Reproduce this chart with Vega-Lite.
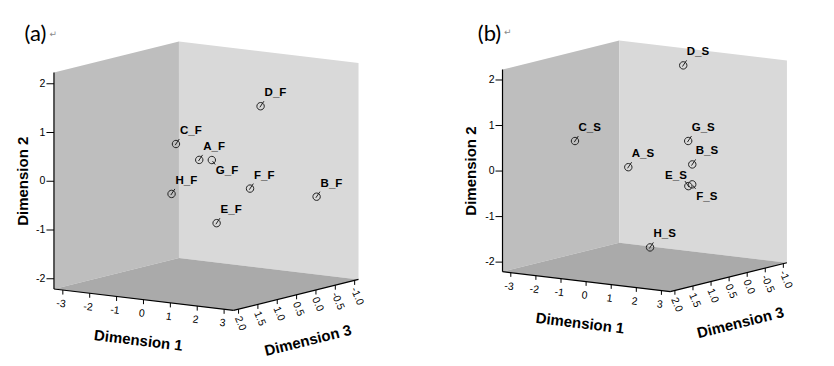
{
  "$schema": "https://vega.github.io/schema/vega-lite/v6.json",
  "padding": 0,
  "spacing": 0,
  "bounds": "flush",
  "config": {"view": {"stroke": null}, "font": "Liberation Sans"},
  "datasets": {
    "walls": [
      {"w": "left", "k": 1, "d1": -3.33, "d2": -2.21, "d3": 2.13},
      {"w": "left", "k": 2, "d1": -3.33, "d2": -2.21, "d3": -1.1},
      {"w": "left", "k": 3, "d1": -3.33, "d2": 2.23, "d3": -1.1},
      {"w": "left", "k": 4, "d1": -3.33, "d2": 2.23, "d3": 2.13},
      {"w": "back", "k": 1, "d1": -3.33, "d2": -2.21, "d3": -1.1},
      {"w": "back", "k": 2, "d1": 3.35, "d2": -2.21, "d3": -1.1},
      {"w": "back", "k": 3, "d1": 3.35, "d2": 2.23, "d3": -1.1},
      {"w": "back", "k": 4, "d1": -3.33, "d2": 2.23, "d3": -1.1},
      {"w": "floor", "k": 1, "d1": -3.33, "d2": -2.21, "d3": 2.13},
      {"w": "floor", "k": 2, "d1": 3.35, "d2": -2.21, "d3": 2.13},
      {"w": "floor", "k": 3, "d1": 3.35, "d2": -2.21, "d3": -1.1},
      {"w": "floor", "k": 4, "d1": -3.33, "d2": -2.21, "d3": -1.1}
    ],
    "edges": [
      {"e": "d2", "k": 1, "d1": -3.33, "d2": -2.21, "d3": 2.13},
      {"e": "d2", "k": 2, "d1": -3.33, "d2": 2.23, "d3": 2.13},
      {"e": "d1", "k": 1, "d1": -3.33, "d2": -2.21, "d3": 2.13},
      {"e": "d1", "k": 2, "d1": 3.35, "d2": -2.21, "d3": 2.13},
      {"e": "d3", "k": 1, "d1": 3.35, "d2": -2.21, "d3": 2.13},
      {"e": "d3", "k": 2, "d1": 3.35, "d2": -2.21, "d3": -1.1}
    ],
    "ticks": [
      {"axis": "d1", "v": -3, "label": "-3"},
      {"axis": "d1", "v": -2, "label": "-2"},
      {"axis": "d1", "v": -1, "label": "-1"},
      {"axis": "d1", "v": 0, "label": "0"},
      {"axis": "d1", "v": 1, "label": "1"},
      {"axis": "d1", "v": 2, "label": "2"},
      {"axis": "d1", "v": 3, "label": "3"},
      {"axis": "d2", "v": -2, "label": "-2"},
      {"axis": "d2", "v": -1, "label": "-1"},
      {"axis": "d2", "v": 0, "label": "0"},
      {"axis": "d2", "v": 1, "label": "1"},
      {"axis": "d2", "v": 2, "label": "2"},
      {"axis": "d3", "v": 2.0, "label": "2.0"},
      {"axis": "d3", "v": 1.5, "label": "1.5"},
      {"axis": "d3", "v": 1.0, "label": "1.0"},
      {"axis": "d3", "v": 0.5, "label": "0.5"},
      {"axis": "d3", "v": 0.0, "label": "0.0"},
      {"axis": "d3", "v": -0.5, "label": "-0.5"},
      {"axis": "d3", "v": -1.0, "label": "-1.0"}
    ],
    "titles": [
      {"t": "Dimension 1", "d1": 0, "d2": -2.21, "d3": 2.13},
      {"t": "Dimension 2", "d1": -3.33, "d2": 0, "d3": 2.13},
      {"t": "Dimension 3", "d1": 3.35, "d2": -2.21, "d3": 0.5}
    ],
    "pa": [
      {"name": "A_F", "d1": -0.56, "d2": 0.26, "d3": 0.3},
      {"name": "B_F", "d1": 2.51, "d2": -0.47, "d3": -0.6},
      {"name": "C_F", "d1": -1.57, "d2": 0.5, "d3": 0.2},
      {"name": "D_F", "d1": 2.01, "d2": 1.57, "d3": 0.5},
      {"name": "E_F", "d1": 0.95, "d2": -0.82, "d3": 0.9},
      {"name": "F_F", "d1": 0.61, "d2": -0.35, "d3": -0.2},
      {"name": "G_F", "d1": -0.38, "d2": 0.23, "d3": 0.1},
      {"name": "H_F", "d1": -0.87, "d2": -0.36, "d3": 0.8}
    ],
    "pb": [
      {"name": "A_S", "d1": -0.81, "d2": -0.09, "d3": 0.4},
      {"name": "B_S", "d1": 1.45, "d2": 0.08, "d3": 0.2},
      {"name": "C_S", "d1": -2.07, "d2": 0.52, "d3": 1.0},
      {"name": "D_S", "d1": -0.35, "d2": 1.94, "d3": -0.8},
      {"name": "E_S", "d1": 1.87, "d2": -0.29, "d3": 0.6},
      {"name": "F_S", "d1": 1.88, "d2": -0.27, "d3": 0.5},
      {"name": "G_S", "d1": 0.28, "d2": 0.38, "d3": -0.5},
      {"name": "H_S", "d1": 0.92, "d2": -1.62, "d3": 1.0}
    ]
  },
  "hconcat": [
    {
      "width": 410,
      "height": 366,
      "layer": [
        {
          "data": {"name": "walls"},
          "transform": [
            {"calculate": "26.88*datum.d1-38.7*datum.d3", "as": "px"},
            {"calculate": "3.21*datum.d1+9.6*datum.d3-48.75*datum.d2", "as": "py"}
          ],
          "mark": {"type": "line", "filled": true, "strokeWidth": 0, "opacity": 1},
          "encoding": {
            "x": {"field": "px", "type": "quantitative", "scale": {"domain": [-225.9, 184.1], "nice": false, "zero": false}, "axis": null},
            "y": {"field": "py", "type": "quantitative", "scale": {"domain": [-171.5, 194.5], "nice": false, "zero": false, "reverse": true}, "axis": null},
            "color": {"field": "w", "type": "nominal", "scale": {"domain": ["left", "back", "floor"], "range": ["#bebebe", "#d9d9d9", "#aaaaaa"]}, "legend": null},
            "detail": {"field": "w"},
            "order": {"field": "k", "type": "quantitative"}
          }
        },
        {
          "data": {"name": "edges"},
          "transform": [
            {"calculate": "26.88*datum.d1-38.7*datum.d3", "as": "px"},
            {"calculate": "3.21*datum.d1+9.6*datum.d3-48.75*datum.d2", "as": "py"}
          ],
          "mark": {"type": "line", "color": "#000000", "strokeWidth": 1.2},
          "encoding": {
            "x": {"field": "px", "type": "quantitative", "axis": null},
            "y": {"field": "py", "type": "quantitative", "axis": null},
            "detail": {"field": "e"},
            "order": {"field": "k", "type": "quantitative"}
          }
        },
        {
          "data": {"name": "ticks"},
          "transform": [
            {"calculate": "datum.axis=='d1'?datum.v:(datum.axis=='d3'?3.35:-3.33)", "as": "d1"},
            {"calculate": "datum.axis=='d2'?datum.v:-2.21", "as": "d2"},
            {"calculate": "datum.axis=='d3'?datum.v:2.13", "as": "d3"},
            {"calculate": "26.88*datum.d1-38.7*datum.d3", "as": "px"},
            {"calculate": "3.21*datum.d1+9.6*datum.d3-48.75*datum.d2", "as": "py"},
            {"calculate": "datum.axis=='d2'?datum.px-7.5:datum.px", "as": "px2"},
            {"calculate": "datum.axis=='d2'?datum.py:datum.py+4.5", "as": "py2"}
          ],
          "encoding": {
            "x": {"field": "px", "type": "quantitative", "axis": null},
            "y": {"field": "py", "type": "quantitative", "axis": null}
          },
          "layer": [
            {"mark": {"type": "rule", "color": "#000000", "strokeWidth": 1}, "encoding": {"x2": {"field": "px2"}, "y2": {"field": "py2"}}},
            {"transform": [{"filter": "datum.axis=='d1'"}], "mark": {"type": "text", "align": "center", "baseline": "middle", "angle": 7, "dy": 14, "fontSize": 10.5, "color": "#000000"}, "encoding": {"text": {"field": "label"}}},
            {"transform": [{"filter": "datum.axis=='d2'"}], "mark": {"type": "text", "align": "right", "baseline": "middle", "dx": -8.5, "fontSize": 10.5, "color": "#000000"}, "encoding": {"text": {"field": "label"}}},
            {"transform": [{"filter": "datum.axis=='d3'"}], "mark": {"type": "text", "align": "left", "baseline": "middle", "angle": 67, "dx": 6.5, "dy": 4, "fontSize": 10.5, "color": "#000000"}, "encoding": {"text": {"field": "label"}}}
          ]
        },
        {
          "data": {"name": "titles"},
          "transform": [
            {"calculate": "26.88*datum.d1-38.7*datum.d3", "as": "px"},
            {"calculate": "3.21*datum.d1+9.6*datum.d3-48.75*datum.d2", "as": "py"}
          ],
          "encoding": {
            "x": {"field": "px", "type": "quantitative", "axis": null},
            "y": {"field": "py", "type": "quantitative", "axis": null},
            "text": {"field": "t"}
          },
          "layer": [
            {"transform": [{"filter": "datum.t=='Dimension 1'"}], "mark": {"type": "text", "align": "center", "baseline": "middle", "angle": 7, "dx": 0, "dy": 41, "fontSize": 15, "fontWeight": "bold", "color": "#000000"}},
            {"transform": [{"filter": "datum.t=='Dimension 2'"}], "mark": {"type": "text", "align": "center", "baseline": "middle", "angle": 270, "dx": 0, "dy": -30.5, "fontSize": 15, "fontWeight": "bold", "color": "#000000"}},
            {"transform": [{"filter": "datum.t=='Dimension 3'"}], "mark": {"type": "text", "align": "center", "baseline": "middle", "angle": 346, "dx": 0, "dy": 47, "fontSize": 15, "fontWeight": "bold", "color": "#000000"}}
          ]
        },
        {
          "data": {"name": "pa"},
          "transform": [
            {"calculate": "26.88*datum.d1-38.7*datum.d3", "as": "px"},
            {"calculate": "3.21*datum.d1+9.6*datum.d3-48.75*datum.d2", "as": "py"}
          ],
          "encoding": {
            "x": {"field": "px", "type": "quantitative", "axis": null},
            "y": {"field": "py", "type": "quantitative", "axis": null}
          },
          "layer": [
            {"transform": [{"filter": "datum.name!='G_F'"}], "mark": {"type": "point", "shape": "M-1,0A1,1,0,1,0,1,0A1,1,0,1,0,-1,0M-0.2,0.3L0.9,-1.35", "size": 55, "filled": false, "stroke": "#222222", "strokeWidth": 1, "opacity": 1}},
            {"transform": [{"filter": "datum.name=='G_F'"}], "mark": {"type": "point", "shape": "M-1,0A1,1,0,1,0,1,0A1,1,0,1,0,-1,0M0.2,0.3L0.9,1.2", "size": 55, "filled": false, "stroke": "#222222", "strokeWidth": 1, "opacity": 1}},
            {"transform": [{"filter": "datum.name!='G_F'"}], "mark": {"type": "text", "align": "left", "baseline": "alphabetic", "dx": 4, "dy": -10, "fontSize": 11.5, "fontWeight": "bold", "color": "#000000"}, "encoding": {"text": {"field": "name"}}},
            {"transform": [{"filter": "datum.name=='G_F'"}], "mark": {"type": "text", "align": "left", "baseline": "alphabetic", "dx": 4, "dy": 14, "fontSize": 11.5, "fontWeight": "bold", "color": "#000000"}, "encoding": {"text": {"field": "name"}}}
          ]
        },
        {
          "data": {"values": [{"c": "(a)"}]},
          "mark": {"type": "text", "align": "left", "baseline": "alphabetic", "font": "Lato", "fontSize": 22, "color": "#000000"},
          "encoding": {
            "x": {"datum": -201.4, "type": "quantitative"},
            "y": {"datum": -130.3, "type": "quantitative"},
            "text": {"field": "c"}
          }
        },
        {
          "data": {"values": [{"c": "↵"}]},
          "mark": {"type": "text", "align": "left", "baseline": "alphabetic", "font": "DejaVu Sans", "fontSize": 9, "color": "#8a8a8a"},
          "encoding": {
            "x": {"datum": -176.4, "type": "quantitative"},
            "y": {"datum": -134.5, "type": "quantitative"},
            "text": {"field": "c"}
          }
        }
      ]
    },
    {
      "width": 424,
      "height": 366,
      "layer": [
        {
          "data": {"name": "walls"},
          "transform": [
            {"calculate": "26.88*datum.d1-38.7*datum.d3", "as": "px"},
            {"calculate": "3.21*datum.d1+9.6*datum.d3-48.75*datum.d2", "as": "py"}
          ],
          "mark": {"type": "line", "filled": true, "strokeWidth": 0, "opacity": 1},
          "encoding": {
            "x": {"field": "px", "type": "quantitative", "scale": {"domain": [-271.0, 183.0], "nice": false, "zero": false}, "axis": null},
            "y": {"field": "py", "type": "quantitative", "scale": {"domain": [-173.4, 218.5], "nice": false, "zero": false, "reverse": true}, "axis": null},
            "color": {"field": "w", "type": "nominal", "scale": {"domain": ["left", "back", "floor"], "range": ["#bebebe", "#d9d9d9", "#aaaaaa"]}, "legend": null},
            "detail": {"field": "w"},
            "order": {"field": "k", "type": "quantitative"}
          }
        },
        {
          "data": {"name": "edges"},
          "transform": [
            {"calculate": "26.88*datum.d1-38.7*datum.d3", "as": "px"},
            {"calculate": "3.21*datum.d1+9.6*datum.d3-48.75*datum.d2", "as": "py"}
          ],
          "mark": {"type": "line", "color": "#000000", "strokeWidth": 1.2},
          "encoding": {
            "x": {"field": "px", "type": "quantitative", "axis": null},
            "y": {"field": "py", "type": "quantitative", "axis": null},
            "detail": {"field": "e"},
            "order": {"field": "k", "type": "quantitative"}
          }
        },
        {
          "data": {"name": "ticks"},
          "transform": [
            {"calculate": "datum.axis=='d1'?datum.v:(datum.axis=='d3'?3.35:-3.33)", "as": "d1"},
            {"calculate": "datum.axis=='d2'?datum.v:-2.21", "as": "d2"},
            {"calculate": "datum.axis=='d3'?datum.v:2.13", "as": "d3"},
            {"calculate": "26.88*datum.d1-38.7*datum.d3", "as": "px"},
            {"calculate": "3.21*datum.d1+9.6*datum.d3-48.75*datum.d2", "as": "py"},
            {"calculate": "datum.axis=='d2'?datum.px-7.5:datum.px", "as": "px2"},
            {"calculate": "datum.axis=='d2'?datum.py:datum.py+4.5", "as": "py2"}
          ],
          "encoding": {
            "x": {"field": "px", "type": "quantitative", "axis": null},
            "y": {"field": "py", "type": "quantitative", "axis": null}
          },
          "layer": [
            {"mark": {"type": "rule", "color": "#000000", "strokeWidth": 1}, "encoding": {"x2": {"field": "px2"}, "y2": {"field": "py2"}}},
            {"transform": [{"filter": "datum.axis=='d1'"}], "mark": {"type": "text", "align": "center", "baseline": "middle", "angle": 7, "dy": 14, "fontSize": 10.5, "color": "#000000"}, "encoding": {"text": {"field": "label"}}},
            {"transform": [{"filter": "datum.axis=='d2'"}], "mark": {"type": "text", "align": "right", "baseline": "middle", "dx": -8, "fontSize": 10.5, "color": "#000000"}, "encoding": {"text": {"field": "label"}}},
            {"transform": [{"filter": "datum.axis=='d3'"}], "mark": {"type": "text", "align": "left", "baseline": "middle", "angle": 67, "dx": 6.5, "dy": 4, "fontSize": 10.5, "color": "#000000"}, "encoding": {"text": {"field": "label"}}}
          ]
        },
        {
          "data": {"name": "titles"},
          "transform": [
            {"calculate": "26.88*datum.d1-38.7*datum.d3", "as": "px"},
            {"calculate": "3.21*datum.d1+9.6*datum.d3-48.75*datum.d2", "as": "py"}
          ],
          "encoding": {
            "x": {"field": "px", "type": "quantitative", "axis": null},
            "y": {"field": "py", "type": "quantitative", "axis": null},
            "text": {"field": "t"}
          },
          "layer": [
            {"transform": [{"filter": "datum.t=='Dimension 1'"}], "mark": {"type": "text", "align": "center", "baseline": "middle", "angle": 7, "dx": -1, "dy": 42, "fontSize": 15, "fontWeight": "bold", "color": "#000000"}},
            {"transform": [{"filter": "datum.t=='Dimension 2'"}], "mark": {"type": "text", "align": "center", "baseline": "middle", "angle": 270, "dx": 0, "dy": -31.5, "fontSize": 15, "fontWeight": "bold", "color": "#000000"}},
            {"transform": [{"filter": "datum.t=='Dimension 3'"}], "mark": {"type": "text", "align": "center", "baseline": "middle", "angle": 346, "dx": 0, "dy": 47, "fontSize": 15, "fontWeight": "bold", "color": "#000000"}}
          ]
        },
        {
          "data": {"name": "pb"},
          "transform": [
            {"calculate": "26.88*datum.d1-38.7*datum.d3", "as": "px"},
            {"calculate": "3.21*datum.d1+9.6*datum.d3-48.75*datum.d2", "as": "py"}
          ],
          "encoding": {
            "x": {"field": "px", "type": "quantitative", "axis": null},
            "y": {"field": "py", "type": "quantitative", "axis": null}
          },
          "layer": [
            {"transform": [{"filter": "datum.name!='E_S' && datum.name!='F_S'"}], "mark": {"type": "point", "shape": "M-1,0A1,1,0,1,0,1,0A1,1,0,1,0,-1,0M-0.2,0.3L0.9,-1.35", "size": 55, "filled": false, "stroke": "#222222", "strokeWidth": 1, "opacity": 1}},
            {"transform": [{"filter": "datum.name=='E_S'"}], "mark": {"type": "point", "shape": "M-1,0A1,1,0,1,0,1,0A1,1,0,1,0,-1,0M0.2,0.3L-0.9,-1.35", "size": 55, "filled": false, "stroke": "#222222", "strokeWidth": 1, "opacity": 1}},
            {"transform": [{"filter": "datum.name=='F_S'"}], "mark": {"type": "point", "shape": "M-1,0A1,1,0,1,0,1,0A1,1,0,1,0,-1,0M0.2,0.3L0.9,1.2", "size": 55, "filled": false, "stroke": "#222222", "strokeWidth": 1, "opacity": 1}},
            {"transform": [{"filter": "datum.name!='E_S' && datum.name!='F_S'"}], "mark": {"type": "text", "align": "left", "baseline": "alphabetic", "dx": 3.5, "dy": -10, "fontSize": 11.5, "fontWeight": "bold", "color": "#000000"}, "encoding": {"text": {"field": "name"}}},
            {"transform": [{"filter": "datum.name=='E_S'"}], "mark": {"type": "text", "align": "right", "baseline": "alphabetic", "dx": -1.5, "dy": -7, "fontSize": 11.5, "fontWeight": "bold", "color": "#000000"}, "encoding": {"text": {"field": "name"}}},
            {"transform": [{"filter": "datum.name=='F_S'"}], "mark": {"type": "text", "align": "left", "baseline": "alphabetic", "dx": 4, "dy": 15.5, "fontSize": 11.5, "fontWeight": "bold", "color": "#000000"}, "encoding": {"text": {"field": "name"}}}
          ]
        },
        {
          "data": {"values": [{"c": "(b)"}]},
          "mark": {"type": "text", "align": "left", "baseline": "alphabetic", "font": "Lato", "fontSize": 22, "color": "#000000"},
          "encoding": {
            "x": {"datum": -198.4, "type": "quantitative"},
            "y": {"datum": -129.6, "type": "quantitative"},
            "text": {"field": "c"}
          }
        },
        {
          "data": {"values": [{"c": "↵"}]},
          "mark": {"type": "text", "align": "left", "baseline": "alphabetic", "font": "DejaVu Sans", "fontSize": 9, "color": "#8a8a8a"},
          "encoding": {
            "x": {"datum": -170.3, "type": "quantitative"},
            "y": {"datum": -135.4, "type": "quantitative"},
            "text": {"field": "c"}
          }
        }
      ]
    }
  ]
}
